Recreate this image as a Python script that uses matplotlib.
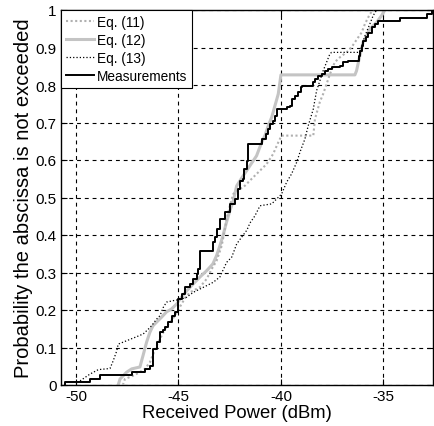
import matplotlib
matplotlib.use("Agg")
import matplotlib.pyplot as plt

plt.rcParams['font.family'] = ['Liberation Sans', 'DejaVu Sans']

# Eq. (11) - light grey dotted
eq11_x = [-47.71, -47.61, -47.20, -46.96, -46.63, -46.39, -46.23, -46.06, -45.90, -45.66,
          -45.41, -45.17, -44.93, -44.68, -44.44, -43.95, -43.62, -43.38, -43.14, -42.89,
          -42.73, -42.65, -42.49, -42.33, -42.00, -41.84, -41.35, -41.11, -40.70, -40.38,
          -40.13, -39.97, -38.42, -38.34, -38.20, -38.10, -37.94, -37.77, -37.61, -37.37,
          -37.12, -36.80, -36.55, -36.39, -36.23, -36.06, -35.90, -35.66, -35.50]
eq11_p = [0.0, 0.016, 0.025, 0.032, 0.043, 0.061, 0.083, 0.105, 0.123, 0.149,
          0.167, 0.185, 0.208, 0.232, 0.247, 0.261, 0.283, 0.309, 0.331, 0.371,
          0.416, 0.443, 0.478, 0.509, 0.523, 0.527, 0.554, 0.567, 0.589, 0.616,
          0.647, 0.665, 0.665, 0.709, 0.736, 0.755, 0.776, 0.803, 0.829, 0.861,
          0.874, 0.887, 0.901, 0.914, 0.927, 0.940, 0.963, 0.989, 1.0]

# Eq. (12) - light grey solid
eq12_x = [-47.94, -47.85, -47.53, -47.28, -46.88, -46.73, -46.55, -46.39, -46.24, -45.82,
          -45.58, -45.33, -45.09, -44.84, -44.60, -44.29, -43.95, -43.62, -43.32, -43.14,
          -42.98, -42.83, -42.65, -42.49, -42.34, -42.16, -41.84, -41.51, -41.19, -40.94,
          -40.78, -40.62, -40.45, -40.29, -40.13, -40.05, -40.00, -36.39, -36.31, -36.15,
          -35.99, -35.82, -35.66, -35.33, -35.09, -34.93]
eq12_p = [0.0, 0.016, 0.034, 0.043, 0.048, 0.078, 0.115, 0.141, 0.158, 0.181,
          0.195, 0.203, 0.216, 0.235, 0.251, 0.269, 0.288, 0.305, 0.323, 0.345,
          0.371, 0.398, 0.435, 0.465, 0.488, 0.531, 0.558, 0.585, 0.611, 0.647,
          0.665, 0.691, 0.714, 0.745, 0.776, 0.807, 0.827, 0.827, 0.838, 0.878,
          0.914, 0.931, 0.949, 0.967, 0.985, 1.0]

# Eq. (13) - black dotted
eq13_x = [-49.80, -49.32, -48.91, -48.34, -48.18, -48.01, -47.94, -47.53, -47.12, -46.72,
          -46.47, -46.31, -46.06, -45.90, -45.74, -45.58, -45.25, -44.93, -44.60, -44.28,
          -43.95, -43.62, -43.30, -42.98, -42.65, -42.40, -42.16, -41.84, -41.66, -41.51,
          -41.27, -41.02, -40.45, -40.21, -39.97, -39.72, -39.48, -39.23, -39.07, -38.83,
          -38.67, -38.42, -38.26, -38.10, -37.94, -37.77, -37.61, -37.53, -36.15, -36.06,
          -35.90, -35.66, -35.50, -35.33]
eq13_p = [0.011, 0.029, 0.041, 0.044, 0.065, 0.091, 0.109, 0.118, 0.127, 0.136,
          0.149, 0.158, 0.176, 0.185, 0.207, 0.221, 0.225, 0.228, 0.234, 0.247,
          0.256, 0.265, 0.274, 0.288, 0.327, 0.341, 0.376, 0.400, 0.413, 0.432,
          0.451, 0.478, 0.483, 0.496, 0.509, 0.541, 0.563, 0.594, 0.621, 0.656,
          0.691, 0.736, 0.785, 0.811, 0.838, 0.861, 0.883, 0.887, 0.887, 0.905,
          0.931, 0.963, 0.985, 1.0]

# Measurements - empirical CDF (steps)
meas_x = [-50.54, -50.54, -49.32, -48.83, -47.28, -46.63, -46.39, -46.23, -46.06, -45.90,
          -45.76, -45.66, -45.51, -45.33, -45.17, -45.02, -44.84, -44.68, -44.44, -44.29,
          -44.11, -44.05, -43.95, -43.32, -43.22, -43.14, -42.98, -42.73, -42.49, -42.24,
          -42.08, -42.00, -41.87, -41.79, -41.67, -41.59, -40.91, -40.75, -40.62, -40.54,
          -40.40, -40.29, -40.18, -39.72, -39.56, -39.46, -39.32, -39.17, -39.04, -38.98,
          -38.42, -38.34, -38.18, -38.01, -37.85, -37.69, -37.53, -37.12, -36.96, -36.72,
          -36.20, -36.15, -36.06, -35.99, -35.85, -35.74, -35.58, -35.41, -35.25, -34.20,
          -32.89, -32.65]
meas_p = [0.0, 0.009, 0.016, 0.027, 0.034, 0.043, 0.051, 0.096, 0.115, 0.141,
          0.147, 0.155, 0.168, 0.185, 0.195, 0.229, 0.243, 0.261, 0.269, 0.283,
          0.296, 0.309, 0.358, 0.381, 0.395, 0.416, 0.443, 0.461, 0.483, 0.496,
          0.523, 0.545, 0.549, 0.576, 0.598, 0.643, 0.656, 0.669, 0.683, 0.696,
          0.705, 0.718, 0.736, 0.741, 0.745, 0.763, 0.771, 0.781, 0.794, 0.798,
          0.807, 0.816, 0.825, 0.829, 0.838, 0.843, 0.847, 0.851, 0.861, 0.865,
          0.878, 0.891, 0.905, 0.918, 0.927, 0.940, 0.954, 0.963, 0.971, 0.980,
          0.989, 1.0]

x_ticks = [-50, -45, -40, -35]
y_ticks = [0, 0.1, 0.2, 0.3, 0.4, 0.5, 0.6, 0.7, 0.8, 0.9, 1]

fig = plt.figure(figsize=(4.34, 4.27), dpi=100)
ax = fig.add_axes([61 / 434, 41 / 427, 372 / 434, 375 / 427])

ax.plot(eq11_x, eq11_p, color='#b0b0b0', lw=1.5, ls=(0, (1, 1.2)), label='Eq. (11)', zorder=3)
ax.plot(eq12_x, eq12_p, color='#c4c4c4', lw=2.2, ls='-', label='Eq. (12)', zorder=2)
ax.plot(eq13_x, eq13_p, color='black', lw=0.9, ls=':', label='Eq. (13)', zorder=4)
ax.plot(meas_x, meas_p, color='black', lw=1.4, drawstyle='steps-post',
        label='Measurements', zorder=5)

ax.set_xlim(-50.73, -32.58)
ax.set_ylim(0, 1)
ax.set_xticks(x_ticks)
ax.set_xticklabels([str(v) for v in x_ticks])
ax.set_yticks(y_ticks)
ax.set_yticklabels(['0'] + ['%.1f' % v for v in y_ticks[1:-1]] + ['1'])
ax.tick_params(direction='in', length=4, labelsize=11, top=True, right=True, pad=3)
ax.grid(True, color='black', lw=0.8, ls=(0, (3.5, 3.5)))
for s in ax.spines.values():
    s.set_linewidth(1.0)

ax.set_xlabel('Received Power (dBm)', fontsize=13.3)
ax.xaxis.set_label_coords(0.473, -0.052)
ax.set_ylabel('Probability the abscissa is not exceeded', fontsize=14.5, labelpad=2)

leg = ax.legend(loc='upper left', bbox_to_anchor=(0, 1), borderaxespad=0,
                fancybox=False, framealpha=1, edgecolor='black', fontsize=9.8,
                handlelength=2.1, handletextpad=0.2, labelspacing=0.3,
                borderpad=0.35)
leg.get_frame().set_linewidth(0.8)
leg.set_zorder(10)

fig.savefig('out.png', dpi=100)
